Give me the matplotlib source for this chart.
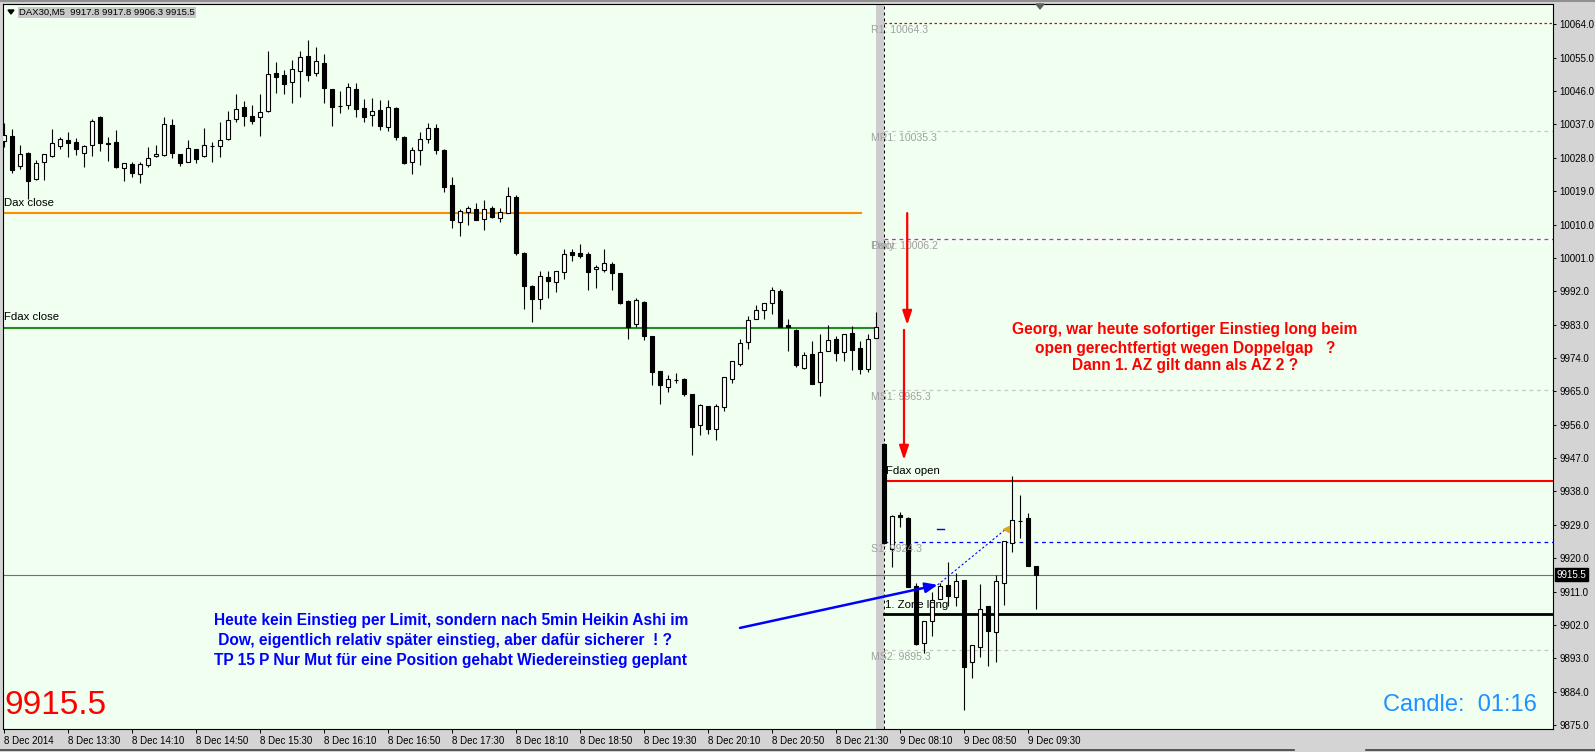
import numpy as np
import matplotlib
matplotlib.use('Agg')
import matplotlib.pyplot as plt
from matplotlib.patches import Polygon
from matplotlib.lines import Line2D

plt.rcParams['font.family'] = ['Liberation Sans', 'DejaVu Sans']

# DAX30 M5 candles: 8 Dec 12:50 - 21:55 (110 bars), 9 Dec 08:00 - 09:35 (20 bars)
opens = [10032.6, 10033.9, 10025.8, 10029.2, 10022.2, 10026.8, 10028.5, 10031.3, 10032.8, 10032.2,
         10029.2, 10031.4, 10039.0, 10031.9, 10032.3, 10025.2, 10026.3, 10023.6, 10026.1, 10028.4,
         10028.7, 10036.9, 10029.0, 10027.0, 10030.4, 10028.4, 10031.3, 10031.3, 10033.0, 10038.4,
         10041.7, 10039.3, 10038.9, 10040.6, 10050.9, 10050.3, 10048.4, 10051.5, 10055.5, 10050.9,
         10053.6, 10046.5, 10042.0, 10042.3, 10046.5, 10041.4, 10039.5, 10040.9, 10036.4, 10041.4,
         10033.6, 10027.0, 10030.0, 10033.0, 10036.0, 10030.0, 10020.7, 10010.7, 10013.4, 10014.2,
         10011.5, 10014.5, 10011.8, 10013.1, 10017.4, 10002.3, 9993.4, 9989.9, 9995.9, 9994.5,
         9997.2, 10002.6, 10002.3, 10002.1, 9998.0, 9997.7, 9999.4, 9996.9, 9989.4, 9983.2,
         9989.1, 9979.9, 9970.5, 9966.2, 9968.1, 9968.3, 9964.3, 9955.9, 9961.0, 9954.9,
         9960.8, 9968.3, 9972.4, 9978.3, 9984.5, 9987.0, 9988.8, 9992.1, 9982.9, 9981.6,
         9971.3, 9975.1, 9967.5, 9975.9, 9979.1, 9975.6, 9980.7, 9976.7, 9971.0, 9979.4,
         9950.8, 9922.5, 9931.7, 9930.8, 9912.5, 9897.1, 9903.0, 9909.0, 9912.8, 9909.5,
         9914.1, 9892.0, 9896.0, 9907.1, 9900.1, 9913.3, 9924.1, 9930.1, 9930.8, 9917.8]
highs = [10037.3, 10035.8, 10031.4, 10029.5, 10027.4, 10029.1, 10035.8, 10033.7, 10034.9, 10033.4,
         10031.5, 10038.4, 10039.2, 10033.7, 10035.5, 10026.6, 10026.8, 10026.8, 10030.9, 10031.4,
         10039.0, 10038.6, 10029.1, 10032.8, 10030.5, 10036.1, 10032.2, 10037.7, 10040.6, 10045.1,
         10043.4, 10042.2, 10045.2, 10056.7, 10053.9, 10051.7, 10054.4, 10056.8, 10059.8, 10057.8,
         10056.0, 10046.6, 10046.1, 10048.1, 10048.1, 10043.8, 10044.1, 10043.6, 10043.6, 10041.8,
         10034.0, 10031.0, 10035.0, 10037.5, 10037.0, 10030.5, 10022.8, 10014.2, 10015.0, 10015.8,
         10016.6, 10015.0, 10014.5, 10020.1, 10018.0, 10002.6, 9993.6, 9997.5, 9997.5, 9997.6,
         10003.4, 10003.4, 10004.8, 10002.6, 9999.1, 10003.4, 9999.9, 9997.0, 9989.6, 9990.2,
         9989.3, 9980.0, 9970.6, 9969.4, 9969.9, 9968.6, 9964.4, 9961.6, 9961.1, 9961.6,
         9969.0, 9973.3, 9979.1, 9985.3, 9988.3, 9988.9, 9993.2, 9992.6, 9984.5, 9981.8,
         9975.6, 9978.6, 9980.5, 9982.9, 9979.9, 9980.6, 9982.6, 9978.6, 9980.5, 9986.4,
         9951.0, 9931.6, 9932.5, 9931.1, 9913.3, 9903.1, 9910.9, 9913.3, 9919.0, 9916.0,
         9914.2, 9896.7, 9913.0, 9907.2, 9915.5, 9924.7, 9942.2, 9937.1, 9932.2, 9917.8]
lows = [10031.0, 10024.0, 10024.9, 10016.8, 10022.0, 10022.0, 10028.3, 10030.3, 10028.3, 10028.7,
        10025.4, 10028.6, 10029.9, 10027.2, 10025.2, 10021.8, 10022.9, 10021.1, 10025.4, 10028.3,
        10028.6, 10027.9, 10025.9, 10026.9, 10026.7, 10028.3, 10026.8, 10028.3, 10032.7, 10037.8,
        10036.7, 10037.1, 10034.0, 10040.5, 10045.4, 10045.2, 10042.7, 10044.5, 10048.8, 10050.1,
        10042.7, 10036.7, 10040.0, 10041.1, 10039.1, 10037.6, 10036.7, 10035.5, 10035.3, 10032.8,
        10026.3, 10023.6, 10026.1, 10032.0, 10029.0, 10018.8, 10009.1, 10006.9, 10009.9, 10011.1,
        10008.5, 10011.8, 10010.7, 10013.0, 10001.8, 9987.2, 9983.7, 9987.2, 9990.2, 9991.8,
        9995.3, 10000.2, 10001.0, 9992.4, 9992.9, 9997.2, 9992.4, 9988.5, 9979.1, 9982.4,
        9978.9, 9966.7, 9961.6, 9964.8, 9967.3, 9963.8, 9947.8, 9953.2, 9953.5, 9951.9,
        9959.7, 9967.3, 9971.9, 9976.4, 9984.4, 9984.5, 9985.9, 9982.3, 9975.9, 9971.6,
        9971.0, 9966.9, 9963.8, 9975.8, 9973.2, 9973.2, 9970.8, 9969.7, 9970.2, 9979.3,
        9923.9, 9917.6, 9928.4, 9912.1, 9896.7, 9894.4, 9899.0, 9908.9, 9907.1, 9907.1,
        9879.1, 9887.7, 9893.3, 9890.9, 9892.0, 9907.4, 9921.7, 9925.4, 9917.8, 9906.3]
closes = [10034.2, 10024.7, 10029.0, 10021.8, 10026.5, 10029.0, 10031.9, 10033.0, 10031.9, 10030.3,
          10031.2, 10037.9, 10031.9, 10031.8, 10025.4, 10026.5, 10024.0, 10026.4, 10027.9, 10029.0,
          10037.0, 10029.4, 10026.7, 10030.6, 10027.8, 10031.4, 10031.2, 10032.7, 10038.2, 10041.2,
          10039.4, 10038.0, 10040.3, 10050.5, 10049.9, 10047.8, 10051.9, 10055.1, 10050.4, 10054.0,
          10046.9, 10041.8, 10041.9, 10047.0, 10041.1, 10039.1, 10040.6, 10036.7, 10041.6, 10033.5,
          10026.6, 10030.0, 10033.0, 10036.0, 10030.0, 10020.1, 10011.2, 10013.7, 10014.5, 10011.2,
          10014.2, 10012.0, 10013.4, 10017.7, 10002.3, 9993.4, 9989.9, 9996.1, 9994.8, 9997.5,
          10002.1, 10001.8, 10001.5, 9997.2, 9998.6, 9999.6, 9996.9, 9988.8, 9982.4, 9989.7,
          9979.9, 9970.2, 9966.7, 9968.3, 9968.0, 9964.3, 9955.4, 9961.3, 9954.9, 9961.0,
          9968.9, 9973.2, 9978.1, 9984.3, 9987.0, 9988.8, 9992.4, 9982.4, 9982.4, 9972.1,
          9974.8, 9967.0, 9975.6, 9978.9, 9975.4, 9980.5, 9976.2, 9971.0, 9979.1, 9982.4,
          9924.1, 9931.4, 9931.1, 9912.2, 9896.9, 9903.0, 9908.7, 9912.5, 9909.8, 9913.8,
          9890.7, 9896.6, 9906.3, 9900.4, 9913.8, 9924.6, 9930.3, 9930.0, 9917.9, 9915.5]

time_labels = ['8 Dec 2014', '8 Dec 13:30', '8 Dec 14:10', '8 Dec 14:50', '8 Dec 15:30',
               '8 Dec 16:10', '8 Dec 16:50', '8 Dec 17:30', '8 Dec 18:10', '8 Dec 18:50',
               '8 Dec 19:30', '8 Dec 20:10', '8 Dec 20:50', '8 Dec 21:30', '9 Dec 08:10',
               '9 Dec 08:50', '9 Dec 09:30']
time_label_bars = [0, 8, 16, 24, 32, 40, 48, 56, 64, 72, 80, 88, 96, 104, 112, 120, 128]
price_ticks = [10064.0, 10055.0, 10046.0, 10037.0, 10028.0, 10019.0, 10010.0, 10001.0, 9992.0,
               9983.0, 9974.0, 9965.0, 9956.0, 9947.0, 9938.0, 9929.0, 9920.0, 9911.0, 9902.0,
               9893.0, 9884.0, 9875.0]

# levels
dax_close = 10013.0
fdax_close = 9982.0
fdax_open = 9940.8
zone_long = 9905.0
last_price = 9915.5
pivot_names = ['R1', 'MR1', 'Pivot', 'MS1', 'S1', 'MS2']
pivot_values = [10064.3, 10035.3, 10006.2, 9965.3, 9924.3, 9895.3]
pivot_colors = ['#E00000', '#C8C8C8', '#FF00FF', '#C8C8C8', '#0000FF', '#C8C8C8']

W, H = 1595, 752
BG = '#D4D4D4'
fig = plt.figure(figsize=(W / 100, H / 100), dpi=100, facecolor=BG)
ax = fig.add_axes([3 / W, 1 - 729 / H, 1550 / W, 725 / H])
ax.set_facecolor('#F0FFF0')
ax.set_xlim(-0.125, 193.625)
ax.set_ylim(9873.93, 10069.5)
day2 = 110
n = len(opens)
xi = np.arange(n)
o = np.array(opens); c = np.array(closes); hi = np.array(highs); lo = np.array(lows)

# separator band + dashed day line
ax.axvspan(day2 - 1, day2, color='#CDCDCD', lw=0, zorder=1)
ax.axvline(day2 + 0.05, color='black', lw=0.72, ls=(0, (3, 3)), zorder=2)

# horizontal level lines
ax.plot([-0.125, 107.1], [dax_close] * 2, color='#FF8C00', lw=1.5, zorder=2)
ax.plot([-0.125, 109.0], [fdax_close] * 2, color='#228B22', lw=1.5, zorder=2)
ax.plot([day2, 193.625], [fdax_open] * 2, color='#FF0000', lw=1.5, zorder=2)
ax.plot([day2, 193.625], [zone_long] * 2, color='black', lw=2.0, zorder=2)
ax.axhline(last_price, color='#707070', lw=0.8, zorder=2)
for name, val, col in zip(pivot_names, pivot_values, pivot_colors):
    dash = (0, (2, 2)) if name == 'R1' else (0, (3, 3))
    ax.plot([day2, 193.625], [val] * 2, color=col, lw=0.9, ls=dash, zorder=2)
    ax.text(108.4, val - 1.9, f'{name}: {val:.1f}', color='#A0A0A0', fontsize=7.6,
            va='center', ha='left', zorder=6)
# the terminal draws a second "Daily" label on top of the pivot label
ax.text(108.4, pivot_values[2] - 1.9, 'Daily', color='#A0A0A0', fontsize=7.6,
        va='center', ha='left', zorder=6)

# candles
ax.vlines(xi, lo, hi, color='black', lw=0.8, zorder=3)
up = c >= o
ax.bar(xi[up], (c - o)[up], bottom=o[up], width=0.5, color='white', edgecolor='black',
       lw=0.8, zorder=4)
ax.bar(xi[~up], (o - c)[~up], bottom=c[~up], width=0.5, color='black', edgecolor='black',
       lw=0.8, zorder=4)

# line labels
ax.text(0, 10015.8, 'Dax close', fontsize=8.2, va='center', ha='left', zorder=6)
ax.text(0, 9985.0, 'Fdax close', fontsize=8.2, va='center', ha='left', zorder=6)
ax.text(110.25, 9943.6, 'Fdax open', fontsize=8.2, va='center', ha='left', zorder=6)
ax.text(110.1, 9907.4, '1. Zone long', fontsize=8.2, va='center', ha='left', zorder=6)

# red arrows
arr_red = dict(arrowstyle='-|>,head_length=0.6,head_width=0.2', color='#FF0000', lw=1.6,
               mutation_scale=14, shrinkA=0, shrinkB=0)
ax.annotate('', xy=(112.9, 9982.9), xytext=(112.9, 10013.1), arrowprops=arr_red, zorder=7)
ax.annotate('', xy=(112.5, 9946.5), xytext=(112.5, 9981.6), arrowprops=arr_red, zorder=7)

# blue arrow + trade line
ax.annotate('', xy=(116.7, 9912.8), xytext=(92.0, 9901.2),
            arrowprops=dict(arrowstyle='-|>,head_length=0.6,head_width=0.25', color='#0000FF',
                            lw=1.8, mutation_scale=12, shrinkA=0, shrinkB=0), zorder=7)
ax.plot([116.7, 125.25], [9912.8, 9927.9], color='#0000FF', lw=0.8, ls=(0, (2, 2)), zorder=5)
ax.plot([116.6, 117.5], [9927.9, 9927.9], color='#0000FF', lw=1.0, zorder=5)
ax.plot([125.25], [9927.9], marker='<', color='#DAA520', ms=4, zorder=6)

# annotations
red_lines = ['Georg, war heute sofortiger Einstieg long beim',
             'open gerechtfertigt wegen Doppelgap   ?',
             'Dann 1. AZ gilt dann als AZ 2 ?']
for t, yv in zip(red_lines, [9981.7, 9976.7, 9971.9]):
    ax.text(147.6, yv, t, color='#FF0000', fontsize=11.2, fontweight='bold', ha='center',
            va='center', zorder=6)
blue_lines = ['Heute kein Einstieg per Limit, sondern nach 5min Heikin Ashi im',
              ' Dow, eigentlich relativ später einstieg, aber dafür sicherer  ! ?',
              'TP 15 P Nur Mut für eine Position gehabt Wiedereinstieg geplant']
for t, yv in zip(blue_lines, [9903.1, 9897.7, 9892.5]):
    ax.text(26.25, yv, t, color='#0000FF', fontsize=11.2, fontweight='bold', ha='left',
            va='center', zorder=6)

ax.text(0.1, 9880.4, '9915.5', color='#FF0000', fontsize=24, ha='left', va='center', zorder=6)
ax.text(172.4, 9880.4, 'Candle:  01:16', color='#1E90FF', fontsize=17,
        ha='left', va='center', zorder=6)

# axes
for s in ax.spines.values():
    s.set_color('black')
    s.set_linewidth(0.8)
ax.yaxis.tick_right()
ax.set_yticks(price_ticks)
ax.set_yticklabels([f'{v:.1f}' for v in price_ticks])
ax.set_xticks(time_label_bars)
ax.set_xticklabels(time_labels, ha='left')
ax.tick_params(axis='y', length=2.5, width=0.7, pad=2, labelsize=7.0, colors='black')
ax.tick_params(axis='x', length=3, width=0.7, pad=2, labelsize=7.0, colors='black')

# current price tag
ax.text(1.0025, last_price, '9915.5', transform=ax.get_yaxis_transform(), color='white',
        fontsize=7.0, ha='left', va='center',
        bbox=dict(boxstyle='square,pad=0.15', fc='black', ec='black'), zorder=8)

# header
fig.text(19 / W, 1 - 12.5 / H, 'DAX30,M5  9917.8 9917.8 9906.3 9915.5', fontsize=6.8,
         ha='left', va='center', bbox=dict(boxstyle='square,pad=0.1', fc='#C8C8C8', ec='none'))
fig.patches.append(Polygon([[8 / W, 1 - 10 / H], [14 / W, 1 - 10 / H], [11 / W, 1 - 14 / H]],
                           closed=True, color='black', transform=fig.transFigure))
fig.patches.append(Polygon([[1036 / W, 1 - 4 / H], [1044 / W, 1 - 4 / H], [1040 / W, 1 - 9 / H]],
                           closed=True, color='#606060', transform=fig.transFigure))
fig.lines.append(Line2D([0, 1], [1 - 1 / H, 1 - 1 / H], color='#909090', lw=1.5,
                        transform=fig.transFigure))
fig.lines.append(Line2D([0, 1294 / W], [1 - 750 / H] * 2, color='#404040', lw=1.2,
                        transform=fig.transFigure))
fig.lines.append(Line2D([1366 / W, 1], [1 - 750 / H] * 2, color='#404040', lw=1.2,
                        transform=fig.transFigure))

fig.savefig('out.png', dpi=100, facecolor=BG)
